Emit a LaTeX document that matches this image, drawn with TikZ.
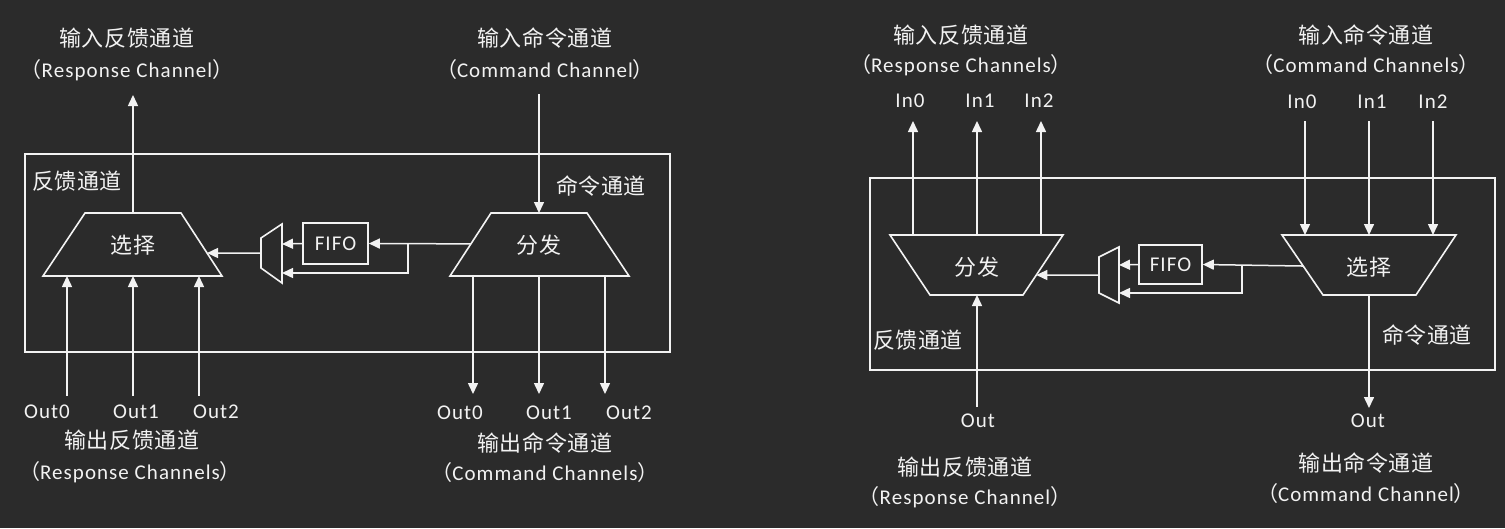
\documentclass[tikz,border=0pt]{standalone}
\usepackage{fontspec}
\setmainfont{Carlito}[LetterSpace=5]
\newfontfamily\cjk{Noto Sans CJK SC}[LetterSpace=3]
\usetikzlibrary{arrows.meta,calc}
\definecolor{bg}{HTML}{2B2B2B}
\definecolor{fg}{HTML}{F2F2F2}
\tikzset{
  wire/.style={draw=fg,line width=1.5pt},
  arr/.style={wire,-{Triangle[length=11pt,width=10pt]}},
  shapebox/.style={draw=fg,line width=1.6pt},
  cn/.style={text=fg,inner sep=0pt,font=\cjk\fontsize{22}{26}\selectfont},
  en/.style={text=fg,inner sep=0pt,font=\fontsize{21}{24}\selectfont},
}
\newcommand{\lp}{{\cjk （}}
\newcommand{\rp}{{\cjk ）}}
\begin{document}
\begin{tikzpicture}[x=1pt,y=-1pt]
\fill[bg] (0,0) rectangle (1505,528);
\useasboundingbox (0,0) rectangle (1505,528);

% ================= LEFT DIAGRAM =================
\draw[shapebox] (25,154) rectangle (670,352);
\node[cn] (lfb) at (77,181) {反馈通道};
\node[cn] (lcmd) at (601,186) {命令通道};

% select trapezoid (wide bottom)
\coordinate (sTL) at (85,213); \coordinate (sTR) at (181,213);
\coordinate (sBR) at (222,276); \coordinate (sBL) at (43,276);
\draw[shapebox] (sTL) -- (sTR) -- (sBR) -- (sBL) -- cycle;
\node[cn] (sel) at (133,245) {选择};
% dispatch trapezoid
\coordinate (dTL) at (491,213); \coordinate (dTR) at (587,213);
\coordinate (dBR) at (629,276); \coordinate (dBL) at (450,276);
\draw[shapebox] (dTL) -- (dTR) -- (dBR) -- (dBL) -- cycle;
\node[cn] (dis) at (539,245) {分发};
% FIFO
\node[shapebox,en,inner sep=0pt,minimum width=65pt,minimum height=41pt] (fifo) at (335.5,243.5) {FIFO};
% mux
\draw[shapebox] (261,238) -- (261,268) -- (282,283) -- (282,224) -- cycle;
\coordinate (muxL) at (261,253);
\coordinate (muxA) at (282,244);
\coordinate (muxB) at (282,273);
\coordinate (dEdge) at ($(dTL)!0.49!(dBL)$);
\coordinate (sEdge) at ($(sTR)!0.635!(sBR)$);
\coordinate (br) at (408,244);
\draw[arr] (dEdge) -- (fifo.east);
\draw[arr] (br) |- (muxB);
\draw[arr] (fifo.west) -- (muxA);
\draw[arr] (muxL) -- (sEdge);

% top labels
\node[cn] (ltop1) at (127,38) {输入反馈通道};
\node[en] (ltop1e) at (127,70) {\lp Response Channel\rp};
\node[cn] (ltop2) at (545,38) {输入命令通道};
\node[en] (ltop2e) at (545,70) {\lp Command Channel\rp};
\coordinate (lrespout) at (133,95);
\coordinate (lcmdin) at (539,94);
\draw[arr] (133,213) -- (lrespout);
\draw[arr] (lcmdin) -- (539,213);

% bottom
\node[en] (lo0) at (47,412) {Out0};
\node[en] (lo1) at (136,412) {Out1};
\node[en] (lo2) at (216,412) {Out2};
\node[en] (lc0) at (460,413) {Out0};
\node[en] (lc1) at (549,413) {Out1};
\node[en] (lc2) at (629,413) {Out2};
\draw[arr] (67,396) -- (67,276);
\draw[arr] (133,396) -- (133,276);
\draw[arr] (199,396) -- (199,276);
\draw[arr] (473,276) -- (473,394);
\draw[arr] (539,276) -- (539,394);
\draw[arr] (605,276) -- (605,394);
\node[cn] (lbot1) at (132,440) {输出反馈通道};
\node[en] (lbot1e) at (130,472) {\lp Response Channels\rp};
\node[cn] (lbot2) at (545,443) {输出命令通道};
\node[en] (lbot2e) at (545,473) {\lp Command Channels\rp};

% ================= RIGHT DIAGRAM =================
\draw[shapebox] (870,178) rectangle (1495,370);
\node[cn] (rfb) at (918,340) {反馈通道};
\node[cn] (rcmd) at (1427,335) {命令通道};

% dispatch (wide top)
\coordinate (DTL) at (890,235); \coordinate (DTR) at (1063,235);
\coordinate (DBR) at (1023,295); \coordinate (DBL) at (930,295);
\draw[shapebox] (DTL) -- (DTR) -- (DBR) -- (DBL) -- cycle;
\node[cn] (rdis) at (977,267) {分发};
% select (wide top)
\coordinate (STL) at (1282,235); \coordinate (STR) at (1456,235);
\coordinate (SBR) at (1416,295); \coordinate (SBL) at (1323,295);
\draw[shapebox] (STL) -- (STR) -- (SBR) -- (SBL) -- cycle;
\node[cn] (rsel) at (1369,267) {选择};
% FIFO
\node[shapebox,en,inner sep=0pt,minimum width=63pt,minimum height=39pt] (rfifo) at (1170.5,264.5) {FIFO};
% mux
\draw[shapebox] (1099,257) -- (1099,293) -- (1119,303) -- (1119,247) -- cycle;
\coordinate (rmuxL) at (1099,275);
\coordinate (rmuxA) at (1119,265);
\coordinate (rmuxB) at (1119,293);
\coordinate (SEdge) at ($(STL)!0.517!(SBL)$);
\coordinate (DEdge) at ($(DTR)!0.667!(DBR)$);
\coordinate (rbr) at (1242,265);
\draw[arr] (SEdge) -- (rfifo.east);
\draw[arr] (rbr) |- (rmuxB);
\draw[arr] (rfifo.west) -- (rmuxA);
\draw[arr] (rmuxL) -- (DEdge);

% top labels
\node[cn] (rtop1) at (961,35) {输入反馈通道};
\node[en] (rtop1e) at (961,65) {\lp Response Channels\rp};
\node[cn] (rtop2) at (1366,35) {输入命令通道};
\node[en] (rtop2e) at (1366,65) {\lp Command Channels\rp};
\node[en] (ri0) at (910,101) {In0};
\node[en] (ri1) at (980,101) {In1};
\node[en] (ri2) at (1039,101) {In2};
\node[en] (rj0) at (1302,102) {In0};
\node[en] (rj1) at (1372,102) {In1};
\node[en] (rj2) at (1433,102) {In2};
\draw[arr] (913,235) -- (913,121);
\draw[arr] (977,235) -- (977,121);
\draw[arr] (1041,235) -- (1041,121);
\draw[arr] (1305,121) -- (1305,235);
\draw[arr] (1369,121) -- (1369,235);
\draw[arr] (1433,121) -- (1433,235);

% bottom
\node[en] (rout1) at (978,421) {Out};
\node[en] (rout2) at (1368,421) {Out};
\draw[arr] (977,407) -- (977,295);
\draw[arr] (1369,295) -- (1369,408);
\node[cn] (rbot1) at (965,467) {输出反馈通道};
\node[en] (rbot1e) at (965,497) {\lp Response Channel\rp};
\node[cn] (rbot2) at (1366,463) {输出命令通道};
\node[en] (rbot2e) at (1366,494) {\lp Command Channel\rp};
\end{tikzpicture}
\end{document}
